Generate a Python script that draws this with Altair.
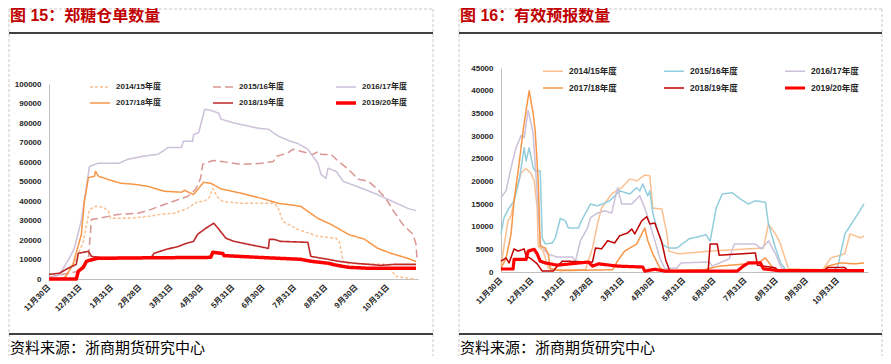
import json
import pandas as pd
import altair as alt

SERIES = ["2014/15年度", "2015/16年度", "2016/17年度", "2017/18年度", "2018/19年度", "2019/20年度"]
TICK_DAYS = [0, 31, 62, 90, 121, 151, 182, 212, 243, 274, 304, 335]
TICK_LABELS = ["11月30日", "12月31日", "1月31日", "2月28日", "3月31日", "4月30日",
               "5月31日", "6月30日", "7月31日", "8月31日", "9月30日", "10月31日"]

TITLE_L = "图 15：郑糖仓单数量"
TITLE_R = "图 16：有效预报数量"
SOURCE = "资料来源：浙商期货研究中心"

# ---- left panel: warehouse receipts (days since 11/30, value) ----
WR_1415_D = [0, 15, 25, 34, 40, 46, 54, 59, 61, 78, 98, 111, 124, 137, 147, 153, 158, 162, 167, 172, 190, 223, 227, 231, 246, 266, 284, 287, 291, 294, 335, 343, 361]
WR_1415_V = [0, 500, 8000, 19200, 35600, 37300, 36700, 34700, 31100, 31100, 32100, 33200, 33700, 36200, 39800, 39800, 41300, 46400, 41800, 39800, 38800, 38800, 36200, 29600, 25500, 21900, 20900, 19300, 9100, 8000, 7500, 1400, 0]
WR_1516_D = [0, 30, 37, 39, 42, 49, 68, 88, 101, 114, 128, 137, 145, 150, 152, 162, 177, 190, 210, 222, 225, 236, 241, 249, 261, 267, 269, 279, 284, 296, 306, 316, 325, 333, 341, 350, 360, 363, 364]
WR_1516_V = [1000, 4000, 9000, 10500, 30500, 31100, 33100, 33700, 35700, 38200, 40800, 42300, 46000, 51700, 58800, 60800, 59800, 58800, 59300, 60300, 63000, 64500, 66500, 65500, 63900, 65500, 63900, 63900, 61400, 56300, 51100, 50100, 46000, 41400, 34700, 28000, 22900, 17800, 10600]
WR_1617_D = [0, 10, 20, 25, 32, 40, 48, 69, 78, 94, 108, 118, 131, 133, 142, 143, 148, 154, 160, 168, 170, 183, 207, 217, 227, 239, 246, 256, 266, 269, 274, 276, 284, 291, 312, 325, 335, 355, 363]
WR_1617_V = [500, 2000, 10500, 15600, 30000, 57700, 59300, 59300, 61400, 63000, 64000, 67500, 67500, 70600, 70600, 74100, 75000, 87000, 86500, 85000, 82000, 80000, 77300, 76800, 73200, 70600, 69500, 66500, 59300, 53700, 51600, 56800, 55200, 50100, 46000, 43300, 40900, 36200, 35100]
WR_1718_D = [0, 14, 17, 24, 32, 35, 39, 45, 46, 49, 58, 71, 84, 98, 114, 131, 134, 143, 148, 153, 160, 170, 190, 210, 227, 249, 256, 266, 279, 296, 312, 325, 338, 355, 363]
WR_1718_V = [0, 300, 1500, 8000, 22800, 39700, 52000, 52700, 55200, 52700, 51100, 49100, 48600, 47500, 45000, 44500, 45500, 43300, 46500, 49600, 49100, 46200, 44000, 41400, 38800, 37300, 34700, 31100, 28000, 22900, 20400, 15800, 13200, 10600, 9000]
WR_1819_D = [0, 10, 19, 27, 29, 39, 42, 51, 101, 104, 116, 128, 136, 143, 147, 155, 163, 168, 175, 183, 197, 217, 218, 223, 229, 256, 259, 276, 286, 302, 328, 341, 363]
WR_1819_V = [2400, 2900, 5500, 7500, 13200, 14200, 11600, 11000, 11000, 13200, 15200, 16700, 18300, 19300, 22900, 26000, 28600, 25500, 20900, 19300, 17800, 15700, 20300, 20300, 19300, 18800, 11600, 10100, 9100, 8100, 7000, 7500, 7500]
WR_1920_D = [0, 27, 29, 34, 37, 40, 48, 84, 160, 162, 172, 173, 207, 249, 259, 276, 282, 296, 316, 363]
WR_1920_V = [0, 0, 4000, 6000, 9000, 9600, 10600, 10800, 11100, 13700, 13100, 12000, 11100, 10100, 9100, 8100, 7300, 6000, 5500, 5500]

# ---- right panel: valid forecasts ----
FC_1415_D = [0, 7, 10, 15, 20, 25, 30, 33, 36, 37, 42, 47, 54, 84, 91, 96, 100, 110, 120, 128, 135, 143, 148, 151, 160, 165, 167, 177, 207, 261, 266, 273, 278, 281, 286, 320, 328, 342, 347, 358, 361]
FC_1415_V = [1500, 11300, 12400, 17900, 21900, 22800, 21700, 20100, 14100, 5700, 4600, 900, 500, 500, 5300, 10600, 14100, 17200, 18600, 20500, 20100, 21400, 21200, 14100, 13900, 8400, 4600, 4000, 4600, 5300, 10600, 8400, 6200, 4000, 700, 500, 3100, 4000, 8400, 7500, 8000]
FC_1516_D = [0, 3, 8, 13, 18, 23, 25, 28, 32, 34, 39, 41, 44, 51, 54, 59, 64, 67, 77, 80, 89, 96, 101, 108, 115, 118, 128, 135, 138, 141, 146, 148, 151, 155, 161, 167, 175, 187, 204, 208, 214, 220, 230, 238, 246, 253, 263, 266, 273, 278, 284, 331, 335, 342, 352, 361]
FC_1516_V = [8400, 12000, 14100, 15700, 20100, 27400, 24500, 27400, 23000, 22300, 22300, 7500, 6200, 6400, 7500, 11800, 11300, 9700, 9700, 11300, 15000, 14600, 15000, 15700, 17200, 17900, 17200, 18600, 17900, 19400, 16800, 17900, 13000, 9700, 6000, 5300, 5300, 7300, 8200, 6800, 14100, 17200, 17500, 16100, 15000, 15700, 15400, 10600, 5300, 2000, 300, 300, 1300, 8400, 11800, 15000]
FC_1617_D = [0, 5, 10, 15, 20, 23, 27, 30, 32, 36, 39, 46, 56, 71, 74, 79, 86, 89, 96, 103, 110, 116, 120, 130, 138, 143, 145, 151, 158, 163, 175, 179, 207, 210, 227, 232, 253, 259, 266, 273, 279, 286, 361]
FC_1617_V = [16400, 17900, 23000, 27400, 30100, 29600, 35600, 32700, 30500, 17200, 6200, 4000, 3300, 3300, 2400, 6900, 9700, 12000, 13000, 13500, 13000, 18600, 15000, 15000, 16800, 14100, 12800, 8400, 3100, 700, 900, 2000, 2200, 1300, 2900, 6200, 6200, 5100, 6900, 4000, 900, 300, 300]
FC_1718_D = [0, 5, 10, 13, 18, 22, 28, 32, 34, 37, 39, 44, 47, 49, 59, 111, 116, 123, 135, 143, 146, 151, 158, 163, 202, 217, 256, 263, 269, 276, 320, 325, 338, 352, 361]
FC_1718_V = [900, 3000, 8400, 15700, 23900, 31200, 40000, 34900, 31200, 20100, 5700, 5300, 4000, 660, 300, 500, 2500, 4600, 6200, 9700, 6900, 4000, 900, 300, 500, 1300, 2000, 3100, 1300, 200, 200, 1300, 2000, 1800, 2000]
FC_1819_D = [0, 5, 8, 13, 17, 23, 25, 30, 36, 41, 52, 56, 61, 91, 94, 100, 106, 113, 118, 126, 130, 133, 140, 145, 148, 153, 160, 164, 168, 206, 208, 215, 217, 253, 255, 261, 273, 276, 321, 325, 342, 345, 361]
FC_1819_V = [2400, 3100, 2000, 5100, 4600, 5100, 3500, 2900, 1800, 200, 200, 1300, 2400, 2200, 5300, 5100, 6900, 6400, 8000, 8600, 9500, 8400, 11300, 12200, 10600, 10800, 6500, 2500, 200, 200, 6200, 6200, 3700, 4200, 1500, 1300, 900, 200, 200, 1000, 1000, 200, 200]
FC_1920_D = [0, 12, 13, 25, 27, 33, 36, 39, 44, 56, 69, 87, 91, 97, 116, 141, 143, 153, 163, 235, 241, 246, 258, 261, 276, 361]
FC_1920_V = [660, 660, 2800, 2800, 4600, 5000, 4000, 2400, 2000, 1500, 1800, 2200, 1300, 1800, 1300, 1100, 200, 600, 200, 200, 1300, 2000, 2000, 700, 300, 300]

COLORS_L = ["#FAC090", "#D99694", "#CCC0DA", "#F79646", "#BE2A2A", "#FF0000"]
COLORS_R = ["#FAC090", "#92CDDC", "#CCC0DA", "#F79646", "#C00000", "#FF0000"]
DASH_L = [[3, 2], [8, 4], [1, 0], [1, 0], [1, 0], [1, 0]]
DASH_R = [[1, 0]] * 6
WIDTH_L = [1.5, 1.5, 1.5, 1.5, 1.6, 3.5]
WIDTH_R = [1.5, 1.5, 1.5, 1.5, 1.5, 3.2]

FONT = "Liberation Sans, Noto Sans CJK SC, sans-serif"
CJK = "Noto Sans CJK SC, sans-serif"


def long_df(pairs):
    rows = []
    for name, days, vals in pairs:
        for d, v in zip(days, vals):
            rows.append({"series": name, "day": d, "value": v})
    return pd.DataFrame(rows)


DF_L = long_df(list(zip(SERIES,
                        [WR_1415_D, WR_1516_D, WR_1617_D, WR_1718_D, WR_1819_D, WR_1920_D],
                        [WR_1415_V, WR_1516_V, WR_1617_V, WR_1718_V, WR_1819_V, WR_1920_V])))
DF_R = long_df(list(zip(SERIES,
                        [FC_1415_D, FC_1516_D, FC_1617_D, FC_1718_D, FC_1819_D, FC_1920_D],
                        [FC_1415_V, FC_1516_V, FC_1617_V, FC_1718_V, FC_1819_V, FC_1920_V])))

LABEL_EXPR = "%s[indexof(%s, datum.value)]" % (json.dumps(TICK_LABELS, ensure_ascii=False), json.dumps(TICK_DAYS))


def one(**kw):
    return pd.DataFrame([kw])


def panel(df, colors, dashes, widths, ymax, ystep, w, h, ytop, lx, ly, lsize, colpad, title, left, right):
    leg = alt.Legend(orient="none", legendX=lx, legendY=ly, columns=3, direction="horizontal", title=None,
                     symbolType="stroke", symbolSize=400, clipHeight=8, rowPadding=8,
                     columnPadding=colpad, labelOffset=4, labelFont=FONT, labelFontSize=lsize,
                     labelFontWeight="bold", labelColor="#262626", labelLimit=200)
    lines = alt.Chart(df).mark_line(strokeJoin="round").encode(
        x=alt.X("day:Q", scale=alt.Scale(domain=[0, 365], nice=False, zero=False),
                axis=alt.Axis(values=TICK_DAYS, labelExpr=LABEL_EXPR, labelAngle=315,
                              labelAlign="right", labelBaseline="middle", labelPadding=7,
                              labelFont=FONT, labelFontSize=8, labelFontWeight="bold",
                              labelColor="#262626", labelOverlap=False, ticks=False, tickSize=0,
                              grid=False, domainColor="#BFBFBF", title=None)),
        y=alt.Y("value:Q", scale=alt.Scale(domain=[0, ymax], range=[h, ytop], nice=False),
                axis=alt.Axis(values=list(range(0, ymax + 1, ystep)), format="d", ticks=False,
                              tickSize=0, labelPadding=8, labelFont=FONT, labelFontSize=8,
                              labelFontWeight="bold", labelColor="#262626", grid=False,
                              domainColor="#BFBFBF", title=None)),
        color=alt.Color("series:N", scale=alt.Scale(domain=SERIES, range=colors), legend=leg),
        strokeDash=alt.StrokeDash("series:N", scale=alt.Scale(domain=SERIES, range=dashes), legend=leg),
        strokeWidth=alt.StrokeWidth("series:N", scale=alt.Scale(type="ordinal", domain=SERIES, range=widths), legend=leg),
    )
    ttl = alt.Chart(one(t=title)).mark_text(align="left", baseline="middle", font=FONT, fontSize=16,
                                            fontWeight="bold", color="#C00000").encode(
        text="t:N", x=alt.value(left + 1), y=alt.value(-52))
    src = alt.Chart(one(t=SOURCE)).mark_text(align="left", baseline="middle", font=CJK, fontSize=15,
                                             color="#000000").encode(
        text="t:N", x=alt.value(left + 1), y=alt.value(280))
    black = alt.Chart(pd.DataFrame({"k": [0, 1]})).mark_rule(color="#000000", strokeWidth=1.5).encode(
        x=alt.value(left), x2=alt.value(right), y=alt.Y("k:Q", scale=alt.Scale(domain=[0, 1], range=[-35, 266]), axis=None))
    dash_v = alt.Chart(pd.DataFrame({"k": [0, 1]})).mark_rule(color="#C8C8C8", strokeDash=[3, 2], strokeWidth=1).encode(
        x=alt.X("k:Q", scale=alt.Scale(domain=[0, 1], range=[left, right]), axis=None),
        y=alt.value(-59), y2=alt.value(288))
    dash_h = alt.Chart(one(k=0)).mark_rule(color="#C8C8C8", strokeDash=[3, 2], strokeWidth=1).encode(
        x=alt.value(left), x2=alt.value(right), y=alt.value(-59))
    return alt.layer(dash_h, dash_v, black, lines, ttl, src).resolve_scale(
        x="independent", y="independent", color="independent", strokeDash="independent", strokeWidth="independent"
    ).properties(width=w, height=h)


left = panel(DF_L, COLORS_L, DASH_L, WIDTH_L, 100000, 10000, 369, 211, 16, 39, 15, 8, 50,
             TITLE_L, -40, 384)
right = panel(DF_R, COLORS_R, DASH_R, WIDTH_R, 45000, 5000, 367, 204, 0, 40, -1, 8.5, 45,
              TITLE_R, -42, 381)

chart = alt.hconcat(left, right, spacing=83, bounds="flush").properties(padding=0).configure_view(strokeWidth=0)

chart.save("out.html", embed_options={"renderer": "svg", "actions": False})
